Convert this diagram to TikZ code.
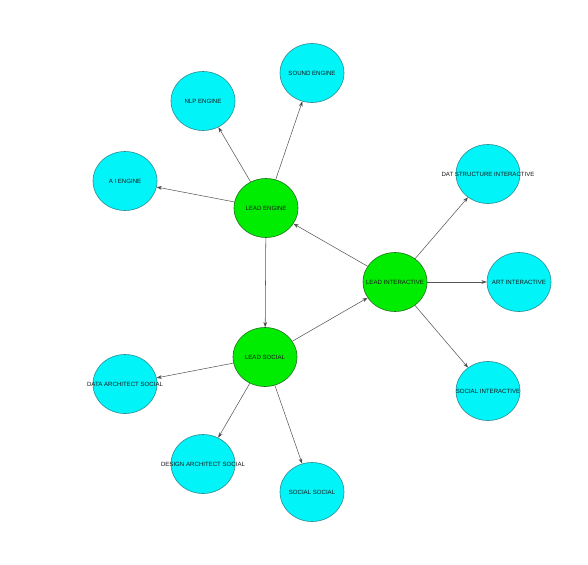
\documentclass[tikz,border=0pt]{standalone}
\usepackage{fontspec}
\setmainfont{Liberation Sans}
\usetikzlibrary{arrows.meta,shapes.geometric}
\definecolor{leadfill}{HTML}{00EC00}
\definecolor{leadline}{HTML}{1E6E1E}
\definecolor{teamfill}{HTML}{00F4F8}
\definecolor{teamline}{HTML}{2A8A90}
\definecolor{edgegray}{HTML}{555555}
\tikzset{>={Stealth[length=4.5pt,width=3.2pt,fill=black]},
  every label/.style={font=\fontsize{5.2}{6}\selectfont,inner sep=0pt,text=black!90},
  lead/.style={ellipse,draw=leadline,fill=leadfill,line width=.5pt,
    minimum width=1.92cm,minimum height=1.77cm,inner sep=0pt},
  team/.style={ellipse,draw=teamline,fill=teamfill,line width=.5pt,
    minimum width=1.92cm,minimum height=1.77cm,inner sep=0pt},
  link/.style={->,draw=edgegray,line width=.45pt}}
\begin{document}
\begin{tikzpicture}[x=0.03cm,y=-0.03cm]
\useasboundingbox (0,0) rectangle (588,565);
% leads
\node[lead,label=center:{LEAD ENGINE}] (engine) at (266,208) {};
\node[lead,label=center:{LEAD INTERACTIVE}] (inter) at (395,282) {};
\node[lead,label=center:{LEAD SOCIAL}] (social) at (265,357) {};
% engine team
\node[team,label=center:{A I ENGINE}] (ai) at (125,181) {};
\node[team,label=center:{NLP ENGINE}] (nlp) at (203,101) {};
\node[team,label=center:{SOUND ENGINE}] (sound) at (312,73) {};
% interactive team
\node[team,label=center:{DAT STRUCTURE INTERACTIVE}] (dat) at (488,174) {};
\node[team,label=center:{ART INTERACTIVE}] (art) at (519,282) {};
\node[team,label=center:{SOCIAL INTERACTIVE}] (socint) at (488,391) {};
% social team
\node[team,label=center:{DATA ARCHITECT SOCIAL}] (data) at (125,384) {};
\node[team,label=center:{DESIGN ARCHITECT SOCIAL}] (design) at (203,464) {};
\node[team,label=center:{SOCIAL SOCIAL}] (socsoc) at (312,492) {};
% connectors
\draw[link] (engine)--(ai);
\draw[link] (engine)--(nlp);
\draw[link] (engine)--(sound);
\draw[link] (engine)--(social);
\draw[link] (social)--(inter);
\draw[link] (inter)--(engine);
\draw[link] (inter)--(dat);
\draw[link] (inter)--(art);
\draw[link] (inter)--(socint);
\draw[link] (social)--(data);
\draw[link] (social)--(design);
\draw[link] (social)--(socsoc);
\end{tikzpicture}
\end{document}
